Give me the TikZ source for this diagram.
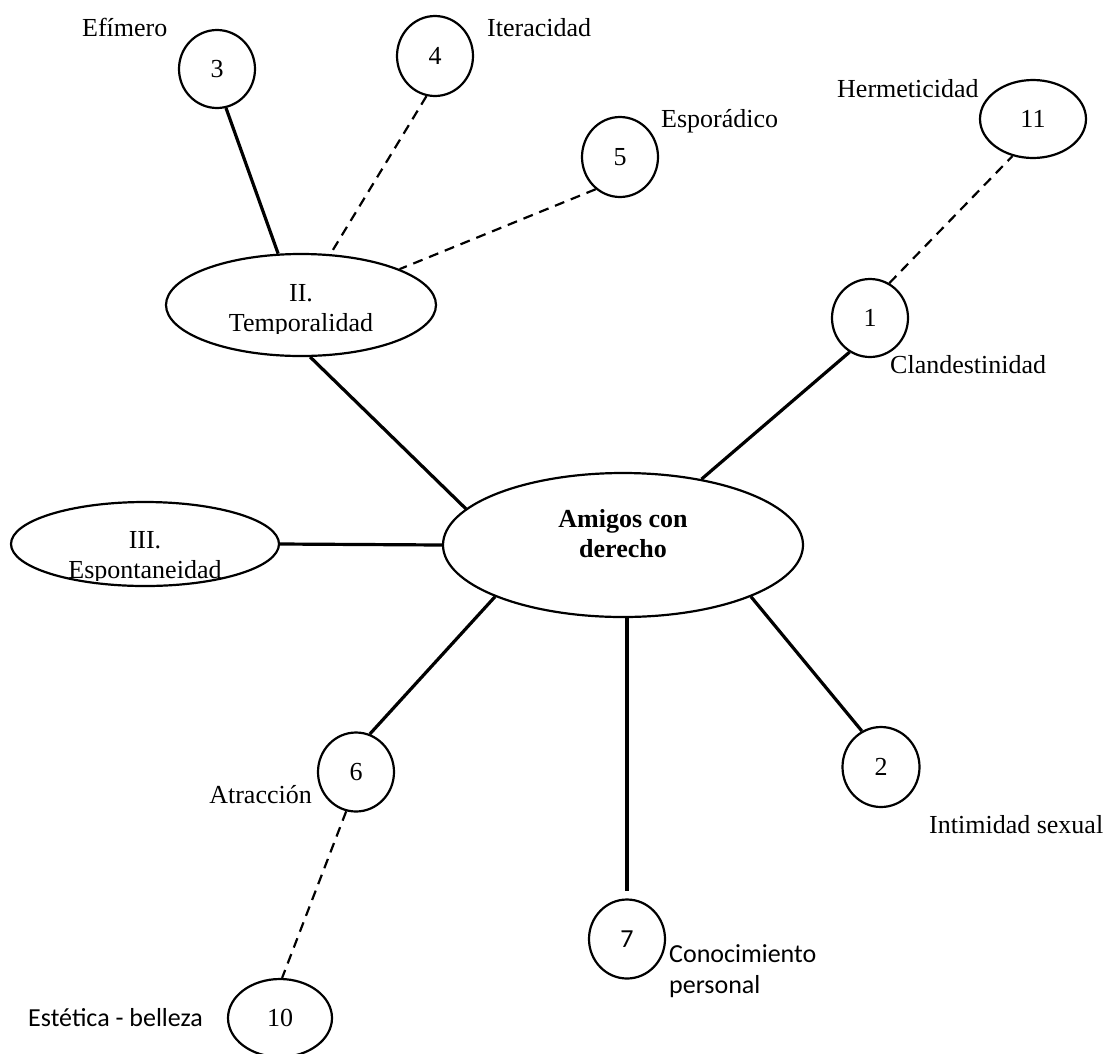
\documentclass[tikz,border=0pt]{standalone}
\usepackage{fontspec}
\setmainfont{Liberation Serif}
\newfontfamily\calibrifont{Carlito}
\usetikzlibrary{shapes.geometric}
\tikzset{
  bubble/.style={ellipse, draw, line width=2.2pt, inner sep=0pt, font=\fontsize{26}{30}\selectfont},
  solidc/.style={line width=3.2pt},
  dashc/.style={line width=2.2pt, dash pattern=on 10pt off 7pt},
  lbl/.style={inner sep=0pt, font=\fontsize{26}{30}\selectfont},
  slbl/.style={inner sep=0pt, font=\calibrifont\fontsize{26}{30}\selectfont},
}
\begin{document}
\begin{tikzpicture}[x=1pt,y=-1pt]
\useasboundingbox (0,0) rectangle (1108,1053);
% nodes
\node[bubble, minimum width=76pt, minimum height=78pt] (c3) at (217,69) {3};
\node[bubble, minimum width=76pt, minimum height=80pt] (c4) at (435,56) {4};
\node[bubble, minimum width=76pt, minimum height=80pt] (c5) at (620,157) {5};
\node[bubble, minimum width=106pt, minimum height=78pt] (c11) at (1033,119) {11};
\node[bubble, minimum width=76pt, minimum height=78pt] (c1) at (870,318) {1};
\node[bubble, minimum width=270pt, minimum height=102pt] (T2) at (301,305) {};
\node[bubble, minimum width=268pt, minimum height=84pt] (E3) at (145,544) {};
\node[bubble, minimum width=360pt, minimum height=144pt] (M) at (623,545) {};
\node[bubble, minimum width=76pt, minimum height=79pt] (c6) at (356,772) {6};
\node[bubble, minimum width=104pt, minimum height=78pt] (c10) at (280,1018) {10};
\node[bubble, minimum width=76pt, minimum height=79pt] (c7) at (627,939) {\calibrifont 7};
\node[bubble, minimum width=77pt, minimum height=80pt] (c2) at (881,767) {2};
% texts inside ellipses
\node[lbl, anchor=base] (t2a) at (301,301) {II.};
\begin{scope}
\clip (0,0) rectangle (1108,333);
\node[lbl, anchor=base] (t2b) at (301,331) {Temporalidad};
\end{scope}
\node[lbl, anchor=base] (e3a) at (145,548) {III.};
\begin{scope}
\clip (0,0) rectangle (1108,580);
\node[lbl, anchor=base] (e3b) at (145,578) {Espontaneidad};
\end{scope}
\node[lbl, anchor=base, font=\bfseries\fontsize{26}{30}\selectfont] (ma) at (623,527) {Amigos con};
\node[lbl, anchor=base, font=\bfseries\fontsize{26}{30}\selectfont] (mb) at (623,557) {derecho};
% labels
\node[lbl, anchor=base west] (l3) at (82,36) {Efímero};
\node[lbl, anchor=base west] (l4) at (487,36) {Iteracidad};
\node[lbl, anchor=base west] (l5) at (661,127) {Esporádico};
\node[lbl, anchor=base west] (l11) at (837,97) {Hermeticidad};
\node[lbl, anchor=base west] (l1) at (890,373) {Clandestinidad};
\node[lbl, anchor=base west] (l2) at (929,833) {Intimidad sexual};
\node[slbl, anchor=base west] (l7a) at (669,962) {Conocimiento};
\node[slbl, anchor=base west] (l7b) at (669,993) {personal};
\node[lbl, anchor=base east] (l6) at (312,803) {Atracción};
\node[slbl, anchor=base west] (l10) at (28,1026) {Estética - belleza};
% connectors
\draw[solidc] (T2.-80) -- (M.167.5);
\draw[solidc] (E3.east) -- (M.west);
\draw[solidc] (M.40) -- (c1.-121);
\draw[solidc] (M.-22) -- (c2.118);
\draw[solidc] (M.-158) -- (c6.70);
\draw[solidc, shorten >=7pt] (c7.north |- M.south) -- (c7.north);
\draw[solidc] (c3.-77) -- (T2.114);
\draw[dashc] (c4.-102) -- (T2.60);
\draw[dashc] (c5.-127) -- (T2.20);
\draw[dashc] (c1.61) -- (c11.-119);
\draw[dashc] (c6.-104) -- (c10.87);
\end{tikzpicture}
\end{document}
